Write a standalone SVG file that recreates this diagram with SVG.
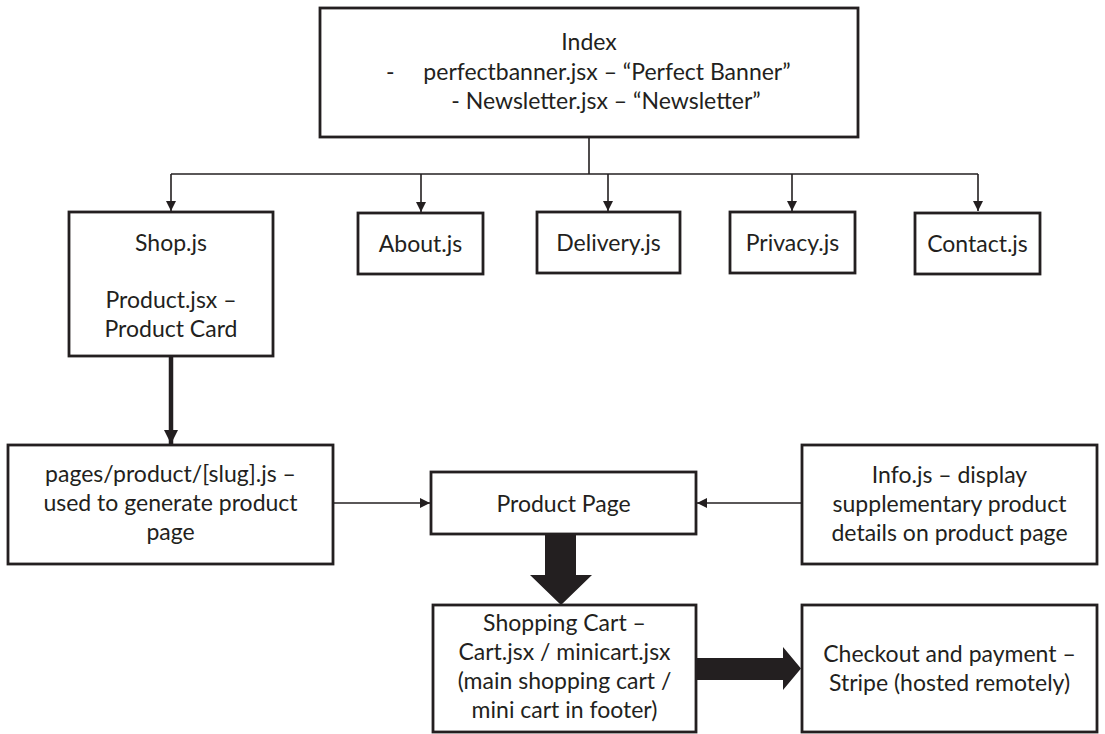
<svg xmlns="http://www.w3.org/2000/svg" width="1105" height="734" viewBox="0 0 1105 734">
<defs>
<style>
.box{fill:#fff;stroke:#231f20;stroke-width:2.8}
.t{font-family:Lato,"Liberation Sans",sans-serif;font-size:23px;fill:#231f20;text-anchor:middle}
.ts{font-family:Lato,"Liberation Sans",sans-serif;font-size:23px;fill:#231f20;text-anchor:start}
.c{fill:none;stroke:#231f20;stroke-width:1.6}
.thick{fill:none;stroke:#231f20;stroke-width:4.5}
.fat{fill:#231f20;stroke:none}
</style>
<marker id="ah" viewBox="0 0 10 10" refX="10" refY="5" markerWidth="10" markerHeight="10" markerUnits="userSpaceOnUse" orient="auto">
<path d="M0,0 L10,5 L0,10 z" fill="#231f20"/>
</marker>
<marker id="ahb" viewBox="0 0 10 10" refX="10" refY="5" markerWidth="14" markerHeight="14" markerUnits="userSpaceOnUse" orient="auto">
<path d="M0,0 L10,5 L0,10 z" fill="#231f20"/>
</marker>
</defs>
<rect width="1105" height="734" fill="#fff"/>
<g id="connectors">
<path class="c" d="M589,137 V174"/>
<path class="c" d="M171,174 H978"/>
<path class="c" d="M171,174 V211" marker-end="url(#ah)"/>
<path class="c" d="M421,174 V212" marker-end="url(#ah)"/>
<path class="c" d="M608,174 V211" marker-end="url(#ah)"/>
<path class="c" d="M792,174 V211" marker-end="url(#ah)"/>
<path class="c" d="M978,174 V211" marker-end="url(#ah)"/>
<path class="thick" d="M171,357 V444" marker-end="url(#ahb)"/>
<path class="c" d="M333,503 H430" marker-end="url(#ah)"/>
<path class="c" d="M802,503 H697" marker-end="url(#ah)"/>
<path class="fat" d="M545,534 H576 V575 H592 L561,605 L530,575 H545 Z"/>
<path class="fat" d="M697,658 H783 V647 L801,668.5 L783,690 V680 H697 Z"/>
</g>
<g id="node-index">
<rect class="box" x="320" y="8" width="538" height="129"/>
<text class="t" x="589" y="50">Index</text>
<text class="ts" x="386" y="80">-</text>
<text class="t" x="607" y="80">perfectbanner.jsx – “Perfect Banner”</text>
<text class="t" x="606" y="109">- Newsletter.jsx – “Newsletter”</text>
</g>
<g id="node-shop">
<rect class="box" x="69" y="212" width="204" height="144"/>
<text class="t" x="171" y="251">Shop.js</text>
<text class="t" x="171" y="308">Product.jsx –</text>
<text class="t" x="171" y="337">Product Card</text>
</g>
<g id="node-about">
<rect class="box" x="358" y="213" width="125" height="61"/>
<text class="t" x="420.5" y="252">About.js</text>
</g>
<g id="node-delivery">
<rect class="box" x="537" y="212" width="143" height="61"/>
<text class="t" x="608.5" y="251">Delivery.js</text>
</g>
<g id="node-privacy">
<rect class="box" x="730" y="212" width="125" height="61"/>
<text class="t" x="792.5" y="251">Privacy.js</text>
</g>
<g id="node-contact">
<rect class="box" x="915" y="213" width="125" height="61"/>
<text class="t" x="977.5" y="252">Contact.js</text>
</g>
<g id="node-slug">
<rect class="box" x="8" y="445" width="325" height="119"/>
<text class="t" x="170.5" y="482">pages/product/[slug].js –</text>
<text class="t" x="170.5" y="511">used to generate product</text>
<text class="t" x="170.5" y="540">page</text>
</g>
<g id="node-productpage">
<rect class="box" x="431" y="472" width="265" height="62"/>
<text class="t" x="563.5" y="512">Product Page</text>
</g>
<g id="node-info">
<rect class="box" x="802" y="445" width="295" height="119"/>
<text class="t" x="949.5" y="483">Info.js – display</text>
<text class="t" x="949.5" y="512">supplementary product</text>
<text class="t" x="949.5" y="541">details on product page</text>
</g>
<g id="node-cart">
<rect class="box" x="433" y="605" width="263" height="127"/>
<text class="t" x="564.5" y="631">Shopping Cart –</text>
<text class="t" x="564.5" y="660">Cart.jsx / minicart.jsx</text>
<text class="t" x="564.5" y="689">(main shopping cart /</text>
<text class="t" x="564.5" y="718">mini cart in footer)</text>
</g>
<g id="node-checkout">
<rect class="box" x="802" y="605" width="295" height="127"/>
<text class="t" x="949.5" y="662">Checkout and payment –</text>
<text class="t" x="949.5" y="691">Stripe (hosted remotely)</text>
</g>
</svg>
